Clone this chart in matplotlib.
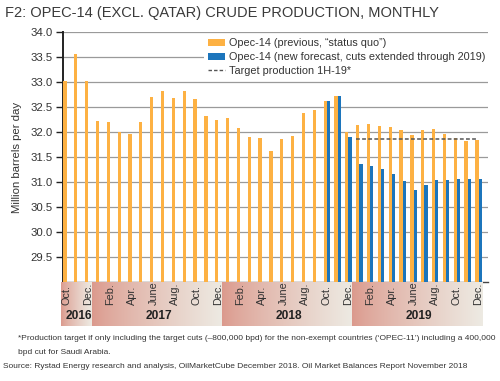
import matplotlib
matplotlib.use("Agg")
import matplotlib.pyplot as plt
import numpy as np
from matplotlib.patches import Patch
from matplotlib.lines import Line2D

plt.rcParams['font.family'] = ['Liberation Sans', 'DejaVu Sans']

# ---- data ----
months = ["Oct.", "Nov.", "Dec.",
          "Jan.", "Feb.", "Mar.", "Apr.", "May", "June", "July", "Aug.", "Sep.", "Oct.", "Nov.", "Dec.",
          "Jan.", "Feb.", "Mar.", "Apr.", "May", "June", "July", "Aug.", "Sep.", "Oct.", "Nov.", "Dec.",
          "Jan.", "Feb.", "Mar.", "Apr.", "May", "June", "July", "Aug.", "Sep.", "Oct.", "Nov.", "Dec."]
years = ["2016", "2017", "2018", "2019"]
year_last_month = [2, 14, 26, 38]

previous = [33.03, 33.57, 33.03,
            32.22, 32.20, 32.00, 31.97, 32.20, 32.71, 32.83, 32.69, 32.83, 32.66, 32.32, 32.25,
            32.28, 32.09, 31.91, 31.89, 31.63, 31.86, 31.93, 32.38, 32.44, 32.63, 32.72, 32.01,
            32.15, 32.16, 32.13, 32.11, 32.04, 31.95, 32.05, 32.06, 31.97, 31.89, 31.83, 31.85]
# new forecast starts in Oct 2018 (index 24)
new_start = 24
new_forecast = [32.63, 32.72, 31.91,
                31.36, 31.31, 31.25, 31.15, 31.01, 30.83, 30.93, 31.03, 31.03, 31.05, 31.06, 31.06]
target_value = 31.855
target_start, target_end = 27, 38

yticks = [29.5, 30.0, 30.5, 31.0, 31.5, 32.0, 32.5, 33.0, 33.5, 34.0]

title = "F2: OPEC-14 (EXCL. QATAR) CRUDE PRODUCTION, MONTHLY"
note1 = ("*Production target if only including the target cuts (\u2013800,000 bpd) for the "
         "non-exempt countries (\u2018OPEC-11\u2019) including a 400,000")
note2 = "bpd cut for Saudi Arabia."
source = ("Source: Rystad Energy research and analysis, OilMarketCube December 2018. "
          "Oil Market Balances Report November 2018")

ORANGE = "#FDB143"
BLUE = "#1C75BC"
GRID = "#9a9a9a"
TXT = "#333333"

W, H = 500, 381
fig = plt.figure(figsize=(W / 100, H / 100), dpi=100)

def fx(px):
    return px / W

def fy(py):
    return 1 - py / H

ax_l, ax_r, ax_t, ax_b = 62.7, 488.0, 32.3, 281.7
ax = fig.add_axes([fx(ax_l), fy(ax_b), fx(ax_r - ax_l), (ax_b - ax_t) / H])

n = len(previous)
x = np.arange(n)
bw = 0.3
ax.bar(x - bw / 2, previous, width=bw, color=ORANGE, zorder=3)
xn = np.arange(new_start, new_start + len(new_forecast))
ax.bar(xn + bw / 2, new_forecast, width=bw, color=BLUE, zorder=3)
ax.hlines(target_value, target_start - 0.33, target_end - 0.05, colors="#555555",
          linestyles=(0, (2.5, 1.5)), linewidth=1.1, zorder=4)

ax.set_ylim(29.0, 34.0)
ax.set_xlim(-0.36, 38.87)
ax.set_yticks(yticks)
ax.set_yticklabels([f"{v:.1f}" for v in yticks], fontsize=8.2, color=TXT)
ax.set_xticks([])
ax.yaxis.grid(True, color=GRID, linewidth=0.9, zorder=0)
ax.set_axisbelow(True)
ax.tick_params(axis='y', direction='out', length=5, width=1.0, pad=2.5, color="#222222")
for s in ["top", "right"]:
    ax.spines[s].set_visible(False)
ax.spines["left"].set_linewidth(1.4)
ax.spines["left"].set_color("#222222")
ax.spines["bottom"].set_linewidth(1.0)
ax.spines["bottom"].set_color("#444444")
ax.set_ylabel("Million barrels per day", fontsize=8.2, color=TXT, labelpad=6)

handles = [Patch(facecolor=ORANGE, edgecolor='none'),
           Patch(facecolor=BLUE, edgecolor='none'),
           Line2D([0], [0], color="#555555", linestyle=(0, (2.5, 1.5)), linewidth=1.0)]
labels = ["Opec-14 (previous, \u201cstatus quo\u201d)",
          "Opec-14 (new forecast, cuts extended through 2019)",
          "Target production 1H-19*"]
leg = ax.legend(handles, labels, loc="upper left",
                bbox_to_anchor=(fx(204), fy(34)), bbox_transform=fig.transFigure,
                fontsize=7.85, frameon=True, fancybox=False, framealpha=1,
                facecolor="white", edgecolor="none", borderpad=0.4,
                handlelength=1.5, handleheight=0.62, handletextpad=0.4,
                labelspacing=0.33, borderaxespad=0)
for t in leg.get_texts():
    t.set_color(TXT)
leg.set_zorder(5)

# ---- year band axes ----
band_top, band_bot = 282.0, 326.0
bx = fig.add_axes([fx(ax_l), fy(band_bot), fx(ax_r - ax_l), (band_bot - band_top) / H])
bx.axis("off")
left_c = np.array([0.86, 0.60, 0.55])
right_c = np.array([0.93, 0.92, 0.89])
g = np.linspace(0, 1, 256) ** 0.8
grad = left_c[None, None, :] * (1 - g[None, :, None]) + right_c[None, None, :] * g[None, :, None]
edges = [-0.52] + [m + 0.31 for m in year_last_month]
for i, yr in enumerate(years):
    x0, x1 = edges[i], edges[i + 1]
    bx.imshow(grad, extent=[x0, x1, 0, 1], aspect="auto", clip_on=False, zorder=1,
              interpolation="bilinear")
    bx.text((x0 + x1) / 2 + 0.2, 0.22, yr, ha="center", va="center", fontsize=8.6,
            fontweight="bold", color="#222222", zorder=3)
bx.set_xlim(ax.get_xlim())
bx.set_ylim(0, 1)
for i in range(0, n, 2):
    bx.text(i, 0.47, months[i], rotation=90, ha="center", va="bottom", fontsize=7.8,
            color=TXT, zorder=3)

# ---- texts (fit to measured widths) ----
renderer = fig.canvas.get_renderer()

def fit_text(px_x, px_y, s, target_w, fs, **kw):
    t = fig.text(fx(px_x), fy(px_y), s, fontsize=fs, ha="left", va="center", **kw)
    w = t.get_window_extent(renderer).width
    t.set_fontsize(fs * target_w / w)
    return t

fit_text(5, 13, title, 433, 12.0, color="#3a3a3a")
t1 = fit_text(18, 338.5, note1, 471, 6.5, color=TXT)
fig.text(fx(18), fy(352.5), note2, fontsize=t1.get_fontsize(), color=TXT, ha="left", va="center")
fit_text(3, 366, source, 460, 6.5, color=TXT)

fig.savefig("out.png", dpi=100)
